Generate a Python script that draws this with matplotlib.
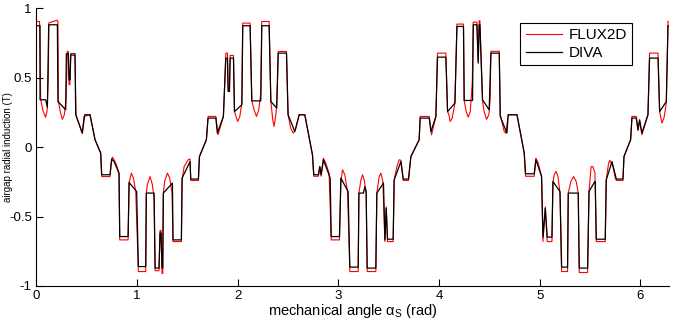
import numpy as np
import matplotlib
matplotlib.use('Agg')
import matplotlib.pyplot as plt
from matplotlib import font_manager

# ---------------- data ----------------
# DIVA (black)
diva_x = [0.000, 0.040, 0.040, 0.096, 0.113, 0.126, 0.212, 0.218, 0.295, 0.301, 0.321, 0.328, 0.338, 0.345, 0.387, 0.394, 0.460, 0.484, 0.536, 0.586, 0.642, 0.652, 0.735, 0.751, 0.775,
          0.824, 0.831, 0.914, 0.924, 0.999, 1.016, 1.089, 1.095, 1.172, 1.182, 1.221, 1.231, 1.241, 1.251, 1.258, 1.264, 1.354, 1.360, 1.443, 1.450, 1.529, 1.536,
          1.612, 1.622, 1.691, 1.708, 1.785, 1.800, 1.860, 1.884, 1.900, 1.907, 1.920, 1.927, 1.960, 1.970, 2.043, 2.052, 2.125, 2.142, 2.231, 2.241, 2.314, 2.331,
          2.390, 2.403, 2.486, 2.502, 2.569, 2.612, 2.668, 2.744, 2.757, 2.803, 2.817, 2.830, 2.853, 2.920, 2.930, 3.012, 3.026, 3.098, 3.115,
          3.198, 3.205, 3.250, 3.264, 3.277, 3.287, 3.373, 3.383, 3.449, 3.463, 3.476, 3.489, 3.545, 3.555, 3.622, 3.645, 3.697, 3.721, 3.803, 3.813, 3.903, 3.920,
          3.969, 3.985, 4.068, 4.085, 4.158, 4.178, 4.243, 4.250, 4.333, 4.340, 4.376, 4.389, 4.399, 4.406, 4.432, 4.498, 4.515, 4.598, 4.608, 4.674, 4.687,
          4.774, 4.846, 4.859, 4.945, 4.962, 5.018, 5.032, 5.055, 5.074, 5.121, 5.131, 5.201, 5.217, 5.276, 5.283, 5.382, 5.392, 5.475, 5.489, 5.541,
          5.551, 5.561, 5.650, 5.660, 5.717, 5.760, 5.826, 5.836, 5.902, 5.915, 5.958, 5.975, 5.991, 6.014, 6.074, 6.090, 6.174, 6.190, 6.256, 6.273, 6.283]
diva_y = [0.874, 0.874, 0.341, 0.341, 0.288, 0.881, 0.881, 0.328, 0.269, 0.672, 0.672, 0.485, 0.485, 0.672, 0.672, 0.233, 0.101, 0.233, 0.233, 0.053, -0.043, -0.199, -0.199, -0.086, -0.104,
          -0.187, -0.644, -0.644, -0.255, -0.320, -0.860, -0.860, -0.331, -0.331, -0.871, -0.871, -0.619, -0.619, -0.871, -0.871, -0.331, -0.259, -0.668, -0.668, -0.223, -0.104, -0.230,
          -0.230, -0.068, 0.053, 0.209, 0.209, 0.101, 0.221, 0.641, 0.641, 0.401, 0.401, 0.641, 0.641, 0.256, 0.305, 0.874, 0.874, 0.333, 0.333, 0.874, 0.874, 0.328,
          0.281, 0.677, 0.677, 0.233, 0.112, 0.233, 0.233, -0.055, -0.199, -0.199, -0.140, -0.199, -0.091, -0.223, -0.644, -0.644, -0.223, -0.320, -0.864,
          -0.864, -0.331, -0.331, -0.284, -0.320, -0.871, -0.871, -0.331, -0.259, -0.668, -0.440, -0.663, -0.663, -0.236, -0.104, -0.230, -0.230, -0.068, 0.053, 0.209, 0.209, 0.112,
          0.221, 0.648, 0.648, 0.256, 0.317, 0.869, 0.869, 0.336, 0.336, 0.881, 0.881, 0.605, 0.881, 0.881, 0.341, 0.269, 0.677, 0.677, 0.221, 0.101, 0.233,
          0.233, -0.043, -0.192, -0.192, -0.091, -0.212, -0.648, -0.440, -0.648, -0.648, -0.248, -0.320, -0.864, -0.864, -0.331, -0.331, -0.871, -0.871, -0.320, -0.255,
          -0.248, -0.663, -0.663, -0.236, -0.104, -0.230, -0.230, -0.068, 0.053, 0.209, 0.209, 0.125, 0.197, 0.101, 0.233, 0.641, 0.641, 0.256, 0.328, 0.874, 0.874]

# FLUX2D (red)
flux_x = [0.000, 0.035, 0.042, 0.047, 0.070, 0.095, 0.110, 0.122, 0.128, 0.210, 0.218, 0.222, 0.241, 0.261, 0.281, 0.298, 0.311, 0.321, 0.328, 0.336, 0.345, 0.387, 0.397, 0.457, 0.477, 0.536, 0.586, 0.642, 0.652, 0.735, 0.745, 0.758, 0.775,
          0.800, 0.824, 0.831, 0.914, 0.924, 0.947, 0.967, 0.990, 1.016, 1.089, 1.095, 1.105, 1.132, 1.155, 1.172, 1.182, 1.221, 1.231, 1.241, 1.251, 1.258, 1.264, 1.277, 1.304, 1.327, 1.350, 1.360, 1.443, 1.450, 1.470, 1.510, 1.529, 1.536,
          1.612, 1.622, 1.691, 1.708, 1.785, 1.807, 1.860, 1.884, 1.900, 1.907, 1.920, 1.927, 1.960, 1.970, 1.990, 2.003, 2.023, 2.043, 2.052, 2.125, 2.142, 2.165, 2.188, 2.211, 2.231, 2.241, 2.314, 2.331, 2.350,
          2.363, 2.383, 2.396, 2.406, 2.486, 2.502, 2.528, 2.555, 2.579, 2.612, 2.668, 2.744, 2.757, 2.803, 2.817, 2.830, 2.853, 2.876, 2.909, 2.930, 3.012, 3.026, 3.042, 3.065, 3.092, 3.115,
          3.198, 3.205, 3.225, 3.241, 3.258, 3.277, 3.287, 3.373, 3.383, 3.406, 3.423, 3.443, 3.463, 3.476, 3.489, 3.545, 3.555, 3.582, 3.605, 3.622, 3.645, 3.697, 3.721, 3.803, 3.813, 3.903, 3.926,
          3.969, 3.985, 4.068, 4.085, 4.098, 4.111, 4.131, 4.158, 4.178, 4.243, 4.250, 4.270, 4.290, 4.310, 4.330, 4.340, 4.376, 4.389, 4.399, 4.406, 4.432, 4.448, 4.472, 4.495, 4.508, 4.515, 4.598, 4.608, 4.647, 4.664, 4.687,
          4.774, 4.846, 4.859, 4.945, 4.962, 4.985, 5.018, 5.032, 5.055, 5.074, 5.121, 5.131, 5.144, 5.161, 5.181, 5.201, 5.217, 5.276, 5.283, 5.309, 5.336, 5.362, 5.382, 5.392, 5.475, 5.489, 5.510, 5.527, 5.548,
          5.561, 5.650, 5.660, 5.683, 5.696, 5.726, 5.750, 5.760, 5.826, 5.836, 5.902, 5.915, 5.958, 5.975, 5.991, 6.014, 6.074, 6.090, 6.174, 6.190, 6.200, 6.213, 6.233, 6.256, 6.273, 6.283]
flux_y = [0.905, 0.905, 0.600, 0.340, 0.260, 0.215, 0.260, 0.500, 0.895, 0.914, 0.900, 0.330, 0.256, 0.200, 0.233, 0.340, 0.689, 0.689, 0.450, 0.450, 0.660, 0.660, 0.233, 0.100, 0.221, 0.233, 0.053, -0.043, -0.212, -0.212, -0.120, -0.072, -0.090,
          -0.130, -0.190, -0.668, -0.668, -0.255, -0.187, -0.223, -0.320, -0.896, -0.896, -0.330, -0.270, -0.212, -0.270, -0.370, -0.890, -0.890, -0.600, -0.600, -0.910, -0.910, -0.330, -0.248, -0.187, -0.223, -0.331, -0.680, -0.680, -0.240, -0.140, -0.091, -0.086, -0.240,
          -0.240, -0.068, 0.053, 0.221, 0.221, 0.089, 0.221, 0.677, 0.677, 0.420, 0.420, 0.660, 0.660, 0.256, 0.209, 0.185, 0.221, 0.317, 0.893, 0.893, 0.333, 0.269, 0.221, 0.269, 0.389, 0.905, 0.905, 0.330, 0.197,
          0.149, 0.245, 0.460, 0.689, 0.689, 0.233, 0.136, 0.100, 0.136, 0.233, 0.233, -0.055, -0.210, -0.210, -0.140, -0.210, -0.080, -0.115, -0.187, -0.668, -0.668, -0.250, -0.163, -0.199, -0.320, -0.896,
          -0.896, -0.330, -0.236, -0.199, -0.236, -0.331, -0.896, -0.896, -0.331, -0.212, -0.187, -0.248, -0.680, -0.430, -0.680, -0.680, -0.236, -0.140, -0.091, -0.095, -0.240, -0.240, -0.068, 0.053, 0.221, 0.221, 0.089,
          0.221, 0.677, 0.677, 0.256, 0.233, 0.185, 0.209, 0.317, 0.886, 0.886, 0.336, 0.256, 0.216, 0.256, 0.460, 0.900, 0.900, 0.620, 0.910, 0.910, 0.330, 0.256, 0.200, 0.233, 0.341, 0.690, 0.690, 0.233, 0.112, 0.101, 0.233,
          0.233, -0.043, -0.210, -0.210, -0.080, -0.115, -0.210, -0.680, -0.430, -0.680, -0.680, -0.250, -0.199, -0.175, -0.212, -0.331, -0.896, -0.896, -0.331, -0.248, -0.212, -0.248, -0.331, -0.903, -0.903, -0.320, -0.140, -0.140, -0.187,
          -0.680, -0.680, -0.236, -0.115, -0.095, -0.140, -0.223, -0.240, -0.240, -0.068, 0.053, 0.221, 0.221, 0.120, 0.190, 0.089, 0.233, 0.677, 0.677, 0.256, 0.221, 0.173, 0.209, 0.317, 0.905, 0.905]

x_ticks = [0, 1, 2, 3, 4, 5, 6]
y_ticks = [-1, -0.5, 0, 0.5, 1]
y_tick_labels = ['-1', '-0.5', '0', '0.5', '1']

# ---------------- style ----------------
fams = {f.name for f in font_manager.fontManager.ttflist}
main_font = 'Liberation Sans Narrow' if 'Liberation Sans Narrow' in fams else 'Liberation Sans'
plt.rcParams['font.family'] = [main_font, 'DejaVu Sans']
plt.rcParams['mathtext.fontset'] = 'custom'
plt.rcParams['mathtext.rm'] = main_font
plt.rcParams['mathtext.it'] = main_font + ':italic'

fig = plt.figure(figsize=(6.73, 3.26), dpi=100)
ax = fig.add_axes([0.0535, 0.1227, 0.9406, 0.852])

ax.plot(flux_x, flux_y, color='#ff0000', lw=0.8, label='FLUX2D')
ax.plot(diva_x, diva_y, color='black', lw=0.9, label='DIVA')

ax.set_xlim(0, 2 * np.pi)
ax.set_ylim(-1, 1)
ax.set_xticks(x_ticks)
ax.set_xticklabels([str(t) for t in x_ticks])
ax.set_yticks(y_ticks)
ax.set_yticklabels(y_tick_labels)
ax.tick_params(direction='in', length=5, width=0.8, labelsize=9.5, pad=3, colors='black')
for s in ['top', 'right']:
    ax.spines[s].set_visible(False)
for s in ['left', 'bottom']:
    ax.spines[s].set_linewidth(0.8)

ax.set_xlabel(r'mechanical angle $\mathrm{\alpha}_{\mathrm{S}}$ (rad)', fontsize=10.5, labelpad=0)
ax.set_ylabel('airgap radial induction (T)', fontsize=7)
ax.yaxis.set_label_coords(-0.037, 0.5)

leg = ax.legend(loc='upper left', bbox_to_anchor=(0.765, 0.947), borderaxespad=0,
                fontsize=11, frameon=True, fancybox=False, edgecolor='black',
                framealpha=1, handlelength=2.4, labelspacing=0.25, borderpad=0.35,
                handletextpad=0.4)
leg.get_frame().set_linewidth(0.8)

fig.savefig('out.png', dpi=100)
